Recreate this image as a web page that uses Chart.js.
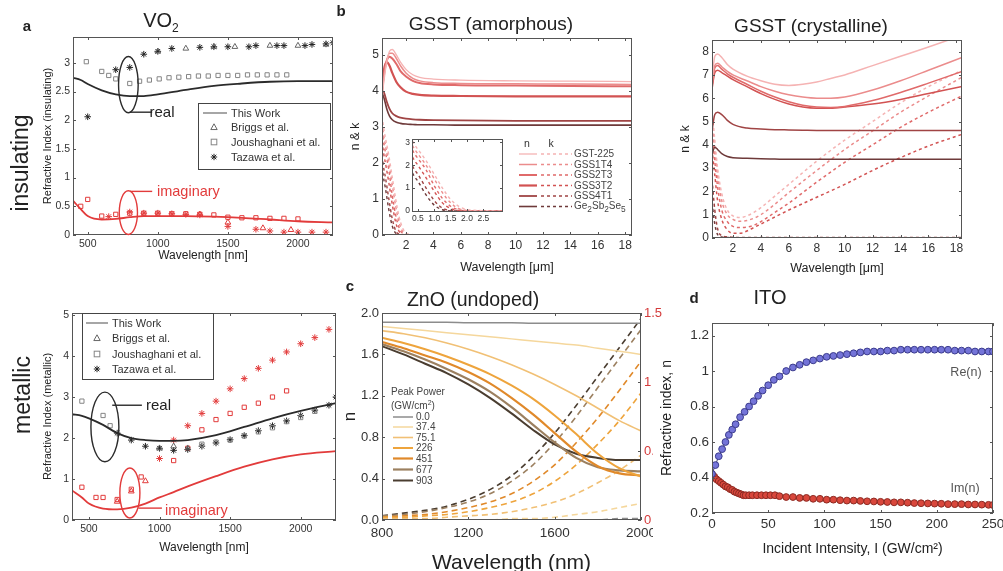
<!DOCTYPE html>
<html><head><meta charset="utf-8">
<script src="https://cdn.jsdelivr.net/npm/chart.js@4.4.1/dist/chart.umd.min.js"></script>
<style>
html,body{margin:0;padding:0;background:#fff;width:1003px;height:571px;overflow:hidden;font-family:"Liberation Sans",Arial,sans-serif;}
.box{position:absolute;}
.t{position:absolute;white-space:nowrap;color:#222;line-height:1;}
#ov{position:absolute;left:0;top:0;}
</style></head><body>
<div id="A" class="box"><canvas></canvas></div>
<div id="B" class="box"><canvas></canvas></div>
<div id="BI" class="box"><canvas></canvas></div>
<div id="C2" class="box"><canvas></canvas></div>
<div id="M" class="box"><canvas></canvas></div>
<div id="C" class="box"><canvas></canvas></div>
<div style="position:absolute;left:653px;top:330px;width:60px;height:241px;background:#fff"></div>
<div id="D" class="box"><canvas></canvas></div>
<svg id="ov" width="1003" height="571"></svg>
<script>
// ---------------- DATA ----------------
// tick labels
const tkVo2X   = [500, 1000, 1500, 2000];
const tkInsY   = [0, 0.5, 1, 1.5, 2, 2.5, 3];
const tkMetY   = [0, 1, 2, 3, 4, 5];
const tkGsstX  = [2, 4, 6, 8, 10, 12, 14, 16, 18];
const tkAmY    = [0, 1, 2, 3, 4, 5];
const tkCrY    = [0, 1, 2, 3, 4, 5, 6, 7, 8];
const tkInsetX = [0.5, 1.0, 1.5, 2.0, 2.5];
const tkInsetY = [0, 1, 2, 3];
const tkZnoX   = [800, 1200, 1600, 2000];
const tkZnoY   = [0, 0.4, 0.8, 1.2, 1.6, 2.0];
const tkZnoY2  = [0, 0.5, 1, 1.5];
const tkItoX   = [0, 50, 100, 150, 200, 250];
const tkItoY   = [0.2, 0.4, 0.6, 0.8, 1, 1.2];

// (a) VO2 insulating
const insX        = [395, 450, 500, 600, 700, 800, 900, 1000, 1200, 1400, 1600, 1800, 2000, 2250];
const insReal     = [2.74, 2.7, 2.63, 2.52, 2.45, 2.42, 2.42, 2.45, 2.53, 2.6, 2.64, 2.67, 2.68, 2.68];
const insImag     = [0.6, 0.45, 0.33, 0.27, 0.28, 0.31, 0.33, 0.33, 0.33, 0.32, 0.3, 0.27, 0.24, 0.22];
const briggsInsRX = [1000, 1200, 1400, 1550, 1800, 2000, 2200];
const briggsInsR  = [3.2, 3.25, 3.28, 3.28, 3.3, 3.3, 3.32];
const joushInsRX  = [490, 600, 650, 700, 800, 870, 940, 1010, 1080, 1150, 1220, 1290, 1360, 1430, 1500, 1570, 1640, 1710, 1780, 1850, 1920];
const joushInsR   = [3.02, 2.85, 2.78, 2.72, 2.64, 2.68, 2.7, 2.72, 2.74, 2.75, 2.76, 2.77, 2.77, 2.78, 2.78, 2.78, 2.79, 2.79, 2.79, 2.79, 2.79];
const tazInsRX    = [500, 700, 800, 900, 1000, 1100, 1300, 1400, 1500, 1650, 1700, 1850, 1900, 2050, 2100, 2200, 2250];
const tazInsR     = [2.06, 2.88, 2.92, 3.15, 3.2, 3.25, 3.27, 3.28, 3.28, 3.28, 3.3, 3.3, 3.3, 3.3, 3.32, 3.33, 3.35];
const joushInsIX  = [450, 500, 600, 700, 800, 900, 1000, 1100, 1200, 1300, 1400, 1500, 1600, 1700, 1800, 1900, 2000];
const joushInsI   = [0.5, 0.62, 0.33, 0.36, 0.38, 0.38, 0.38, 0.37, 0.37, 0.36, 0.35, 0.31, 0.3, 0.3, 0.29, 0.29, 0.28];
const tazInsIX    = [650, 800, 900, 1000, 1100, 1200, 1300, 1500, 1700, 1800, 1900, 2000, 2100, 2200];
const tazInsI     = [0.32, 0.4, 0.38, 0.38, 0.37, 0.36, 0.35, 0.15, 0.1, 0.07, 0.05, 0.05, 0.05, 0.05];
const briggsInsIX = [1300, 1500, 1750, 1950];
const briggsInsI  = [0.36, 0.22, 0.12, 0.09];

// VO2 metallic
const metX        = [380, 450, 500, 600, 700, 800, 900, 1000, 1100, 1200, 1400, 1600, 1800, 2000, 2250];
const metReal     = [2.58, 2.54, 2.48, 2.32, 2.12, 2.0, 1.95, 1.93, 1.93, 1.95, 2.07, 2.27, 2.48, 2.66, 2.85];
const metImag     = [0.72, 0.55, 0.4, 0.28, 0.26, 0.3, 0.4, 0.55, 0.68, 0.82, 1.07, 1.3, 1.48, 1.6, 1.68];
const tazMetRX    = [700, 800, 900, 1000, 1100, 1200, 1300, 1400, 1500, 1600, 1700, 1800, 1900, 2000, 2100, 2200, 2250];
const tazMetR     = [2.12, 1.95, 1.8, 1.75, 1.7, 1.72, 1.8, 1.88, 1.96, 2.06, 2.18, 2.3, 2.42, 2.55, 2.68, 2.8, 3.0];
const joushMetRX  = [450, 600, 650, 1300, 1400, 1500, 1600, 1700, 1800, 1900, 2000, 2100];
const joushMetR   = [2.9, 2.55, 2.3, 1.85, 1.9, 1.95, 2.05, 2.15, 2.25, 2.4, 2.5, 2.65];
const briggsMetRX = [1000, 1100, 1200];
const briggsMetR  = [1.75, 1.8, 1.75];
const tazMetIX    = [1000, 1100, 1200, 1300, 1400, 1500, 1600, 1700, 1800, 1900, 2000, 2100, 2200];
const tazMetI     = [1.5, 1.95, 2.3, 2.6, 2.9, 3.2, 3.45, 3.7, 3.9, 4.1, 4.3, 4.45, 4.65];
const joushMetIX  = [450, 550, 600, 700, 800, 870, 1100, 1200, 1300, 1400, 1500, 1600, 1700, 1800, 1900];
const joushMetI   = [0.8, 0.55, 0.55, 0.5, 0.75, 1.05, 1.45, 1.75, 2.2, 2.45, 2.6, 2.75, 2.85, 3.0, 3.15];
const briggsMetIX = [700, 800, 900];
const briggsMetI  = [0.45, 0.7, 0.95];

// (b) GSST amorphous
const gsstNames = ['GST-225', 'GSS1T4', 'GSS2T3', 'GSS3T2', 'GSS4T1', 'Ge<sub>2</sub>Sb<sub>2</sub>Se<sub>5</sub>'];
const amNX   = [0.25, 0.4, 0.6, 0.8, 1.0, 1.3, 1.6, 2.0, 2.5, 3, 4, 6, 10, 14, 18.5];
const amN225 = [3.8, 4.3, 4.8, 5.1, 5.15, 5.0, 4.8, 4.6, 4.45, 4.38, 4.33, 4.3, 4.28, 4.27, 4.26];
const amN14  = [3.9, 4.4, 4.85, 5.05, 5.05, 4.9, 4.7, 4.5, 4.35, 4.28, 4.23, 4.21, 4.2, 4.19, 4.18];
const amN23  = [4.0, 4.5, 4.85, 4.95, 4.9, 4.75, 4.55, 4.4, 4.28, 4.22, 4.18, 4.16, 4.15, 4.14, 4.13];
const amN32  = [4.1, 4.6, 4.8, 4.7, 4.5, 4.25, 4.1, 3.98, 3.92, 3.89, 3.87, 3.86, 3.85, 3.85, 3.85];
const amN41  = [4.0, 3.95, 3.7, 3.5, 3.38, 3.3, 3.26, 3.23, 3.21, 3.2, 3.19, 3.18, 3.17, 3.17, 3.17];
const amN225s= [3.95, 3.8, 3.5, 3.3, 3.2, 3.13, 3.1, 3.08, 3.07, 3.06, 3.06, 3.05, 3.05, 3.05, 3.05];
const amKX   = [0.25, 0.4, 0.5, 0.75, 1.0, 1.25, 1.5, 1.75, 2.0, 2.5, 3.0, 6, 18.5];
const amK225 = [3.3, 2.9, 2.7, 2.2, 1.6, 1.0, 0.5, 0.2, 0.06, 0.01, 0, 0, 0];
const amK14  = [3.1, 2.7, 2.5, 2.0, 1.4, 0.8, 0.35, 0.1, 0.02, 0, 0, 0, 0];
const amK23  = [2.9, 2.5, 2.3, 1.8, 1.1, 0.55, 0.2, 0.05, 0.01, 0, 0, 0, 0];
const amK32  = [2.6, 2.2, 2.0, 1.45, 0.85, 0.35, 0.1, 0.02, 0, 0, 0, 0, 0];
const amK41  = [2.2, 1.8, 1.6, 1.0, 0.45, 0.12, 0.02, 0, 0, 0, 0, 0, 0];
const amK225s= [1.9, 1.5, 1.3, 0.7, 0.25, 0.05, 0, 0, 0, 0, 0, 0, 0];

// GSST crystalline
const crNX   = [0.5, 0.7, 0.9, 1.2, 1.6, 2, 3, 4, 5, 6, 7, 8, 9, 10, 12, 14, 16, 18.4];
const crN225 = [6.8, 7.8, 7.9, 7.75, 7.45, 7.25, 6.95, 6.75, 6.6, 6.55, 6.6, 6.7, 6.85, 7.0, 7.4, 7.8, 8.2, 8.7];
const crN14  = [6.6, 7.4, 7.5, 7.35, 7.15, 7.0, 6.75, 6.5, 6.3, 6.15, 6.05, 6.0, 6.0, 6.05, 6.35, 6.75, 7.2, 7.75];
const crN23  = [6.5, 7.3, 7.4, 7.25, 7.05, 6.9, 6.6, 6.3, 6.05, 5.85, 5.7, 5.62, 5.6, 5.65, 5.9, 6.25, 6.65, 7.15];
const crN32  = [6.4, 7.1, 7.2, 7.1, 6.95, 6.8, 6.5, 6.2, 5.95, 5.75, 5.62, 5.57, 5.57, 5.62, 5.75, 5.95, 6.2, 6.5];
const crN41  = [4.6, 5.3, 5.4, 5.3, 5.05, 4.88, 4.72, 4.68, 4.65, 4.64, 4.63, 4.62, 4.62, 4.62, 4.62, 4.62, 4.62, 4.62];
const crN225s= [3.6, 3.9, 3.8, 3.62, 3.5, 3.45, 3.42, 3.4, 3.39, 3.38, 3.38, 3.38, 3.38, 3.38, 3.38, 3.38, 3.38, 3.38];
const crKX   = [0.5, 0.7, 0.9, 1.2, 1.6, 2, 2.5, 3, 3.5, 4, 5, 6, 8, 10, 12, 14, 16, 18.4];
const crK225 = [5.5, 4.2, 3.0, 1.9, 1.2, 0.95, 0.88, 0.95, 1.1, 1.3, 1.8, 2.3, 3.3, 4.2, 5.0, 5.8, 6.5, 7.2];
const crK14  = [5.0, 3.8, 2.7, 1.6, 1.0, 0.8, 0.72, 0.75, 0.85, 1.0, 1.45, 1.95, 2.9, 3.8, 4.6, 5.4, 6.1, 6.9];
const crK23  = [4.5, 3.3, 2.2, 1.2, 0.7, 0.5, 0.45, 0.47, 0.55, 0.7, 1.1, 1.5, 2.4, 3.25, 4.0, 4.75, 5.4, 6.1];
const crK32  = [3.8, 2.7, 1.6, 0.8, 0.35, 0.2, 0.2, 0.3, 0.45, 0.6, 0.9, 1.2, 1.75, 2.3, 2.9, 3.45, 3.95, 4.45];
const crK41  = [2.5, 1.2, 0.4, 0.1, 0.05, 0.03, 0.02, 0.02, 0.02, 0.02, 0.02, 0.02, 0.02, 0.02, 0.02, 0.02, 0.02, 0.02];
const crK225s= [1.5, 0.6, 0.15, 0.04, 0.02, 0.01, 0.01, 0.01, 0.01, 0.01, 0.01, 0.01, 0.01, 0.01, 0.01, 0.01, 0.01, 0.01];

// (c) ZnO
const znoPowers = ['0.0', '37.4', '75.1', '226', '451', '677', '903'];
const znoX  = [800, 900, 1000, 1100, 1200, 1300, 1400, 1500, 1600, 1700, 1800, 1900, 2000];
const znoN0   = [1.91, 1.91, 1.91, 1.91, 1.905, 1.905, 1.905, 1.9, 1.9, 1.9, 1.9, 1.9, 1.9];
const znoN37  = [1.87, 1.85, 1.83, 1.81, 1.79, 1.77, 1.75, 1.73, 1.71, 1.69, 1.66, 1.63, 1.6];
const znoN75  = [1.83, 1.8, 1.76, 1.71, 1.65, 1.58, 1.5, 1.41, 1.31, 1.2, 1.08, 0.96, 0.86];
const znoN226 = [1.76, 1.71, 1.65, 1.58, 1.5, 1.41, 1.3, 1.17, 1.01, 0.83, 0.64, 0.5, 0.42];
const znoN451 = [1.72, 1.66, 1.59, 1.52, 1.43, 1.32, 1.18, 1.02, 0.84, 0.66, 0.52, 0.45, 0.43];
const znoN677 = [1.7, 1.63, 1.55, 1.46, 1.36, 1.24, 1.09, 0.92, 0.75, 0.6, 0.51, 0.48, 0.47];
const znoN903 = [1.68, 1.6, 1.51, 1.42, 1.31, 1.18, 1.03, 0.87, 0.73, 0.64, 0.6, 0.58, 0.58];
const znoK0   = [0, 0, 0, 0, 0, 0, 0, 0, 0, 0, 0, 0.01, 0.01];
const znoK37  = [0, 0, 0, 0, 0, 0, 0.01, 0.01, 0.02, 0.04, 0.06, 0.09, 0.12];
const znoK75  = [0.01, 0.01, 0.01, 0.02, 0.03, 0.04, 0.06, 0.09, 0.13, 0.19, 0.27, 0.36, 0.47];
const znoK226 = [0.02, 0.02, 0.03, 0.04, 0.06, 0.09, 0.13, 0.19, 0.28, 0.4, 0.55, 0.72, 0.92];
const znoK451 = [0.02, 0.03, 0.04, 0.06, 0.09, 0.13, 0.19, 0.28, 0.4, 0.56, 0.74, 0.94, 1.15];
const znoK677 = [0.03, 0.04, 0.06, 0.09, 0.13, 0.19, 0.28, 0.4, 0.56, 0.75, 0.96, 1.17, 1.38];
const znoK903 = [0.03, 0.05, 0.07, 0.1, 0.15, 0.22, 0.32, 0.46, 0.63, 0.83, 1.04, 1.25, 1.46];

// (d) ITO
const itoReX = [0,3,6,9,12,15,18,21,25,29,33,37,41,45,50,55,60,66,72,78,84,90,96,102,108,114,120,126,132,138,144,150,156,162,168,174,180,186,192,198,204,210,216,222,228,234,240,246,250];
const itoRe  = [0.42,0.47,0.52,0.56,0.6,0.64,0.67,0.70,0.74,0.77,0.8,0.83,0.86,0.89,0.92,0.95,0.97,1.0,1.02,1.035,1.05,1.06,1.07,1.08,1.085,1.09,1.095,1.1,1.105,1.11,1.11,1.11,1.115,1.115,1.12,1.12,1.12,1.12,1.12,1.12,1.12,1.12,1.115,1.115,1.115,1.11,1.11,1.11,1.11];
const itoImX = [0,2,4,6,8,10,12,14,16,18,20,22,24,26,28,30,33,36,40,44,48,52,56,60,66,72,78,84,90,96,102,108,114,120,126,132,138,144,150,156,162,168,174,180,186,192,198,204,210,216,222,228,234,240,246,250];
const itoIm  = [0.42,0.405,0.39,0.38,0.37,0.36,0.35,0.345,0.335,0.33,0.32,0.315,0.31,0.305,0.3,0.3,0.3,0.3,0.3,0.3,0.3,0.3,0.3,0.295,0.29,0.29,0.285,0.285,0.28,0.28,0.275,0.275,0.272,0.27,0.27,0.268,0.266,0.265,0.263,0.262,0.26,0.26,0.258,0.256,0.255,0.254,0.253,0.252,0.25,0.25,0.25,0.248,0.248,0.247,0.246,0.245];

// ---------------- STYLE ----------------
const FONT = '"Liberation Sans", Arial, sans-serif';
Chart.defaults.font.family = FONT;
Chart.defaults.color = '#333';
const GS = ['#f5b3b3', '#eb8c8c', '#e06a6a', '#d25252', '#a04444', '#6e3a3a'];
const GW = [1.3, 1.5, 2.0, 2.2, 1.8, 1.6];
const ZC = ['#8c8c8c', '#f5d79c', '#f1c075', '#eea43c', '#e0892a', '#9c8060', '#4a3d30'];
const ZW = [1.5, 1.5, 1.6, 2, 2.2, 2.2, 2];
const RED = '#e23b3b', BLK = '#2b2b2b', GRY = '#858585';

function xy(xs, ys) { return xs.map((x, i) => ({x: x, y: ys[i]})); }
function line(xs, ys, color, w, dash, yid) {
  return {data: xy(xs, ys), borderColor: color, borderWidth: w, borderDash: dash || [], pointRadius: 0,
          fill: false, cubicInterpolationMode: 'monotone', yAxisID: yid || 'y'};
}
function pts(xs, ys, style, color, r, fill) {
  return {data: xy(xs, ys), showLine: false, pointStyle: style, pointRadius: r || 3.3, pointBorderColor: color,
          pointBackgroundColor: fill || 'rgba(0,0,0,0)', pointBorderWidth: 1, borderColor: color, yAxisID: 'y'};
}
const plain = v => String(Math.round(v * 1000) / 1000);
const fix1 = v => v.toFixed(1);
function axis(pos, min, max, tks, size, fs, title, tfs, extra) {
  const vertical = (pos === 'left' || pos === 'right');
  const a = {
    type: 'linear', position: pos, min: min, max: max,
    grid: {display: false, drawTicks: false}, border: {display: false},
    ticks: {autoSkip: false, maxRotation: 0, padding: 3, color: '#333', font: {size: fs}, callback: plain},
    title: {display: !!title, text: title || '', color: '#222', font: {size: tfs || fs},
            padding: vertical ? {top: 0, bottom: 0} : {top: 0, bottom: 4}},
    afterBuildTicks: function (s) { s.ticks = tks.map(v => ({value: v})); },
    afterFit: function (s) { if (vertical) s.width = size; else s.height = size; }
  };
  if (extra && extra.ticks) Object.assign(a.ticks, extra.ticks);
  return a;
}
function opts(scales, pad, plugins) {
  return {responsive: false, animation: false, events: [], layout: {padding: pad}, scales: scales,
          plugins: Object.assign({legend: {display: false}, tooltip: {enabled: false}}, plugins || {})};
}

// plugins
const framePlugin = {
  id: 'frame',
  afterDatasetsDraw(chart, args, o) {
    const {ctx, chartArea: a, scales} = chart;
    ctx.save();
    ctx.strokeStyle = '#555'; ctx.lineWidth = 1;
    ctx.strokeRect(Math.round(a.left) + 0.5, Math.round(a.top) + 0.5, Math.round(a.right - a.left) - 1, Math.round(a.bottom - a.top) - 1);
    const L = 3;
    ctx.beginPath();
    const sx = scales.x;
    sx.ticks.forEach(t => { const p = Math.round(sx.getPixelForValue(t.value)) + 0.5;
      ctx.moveTo(p, a.bottom); ctx.lineTo(p, a.bottom - L); ctx.moveTo(p, a.top); ctx.lineTo(p, a.top + L); });
    const sy = scales.y;
    sy.ticks.forEach(t => { const p = Math.round(sy.getPixelForValue(t.value)) + 0.5;
      ctx.moveTo(a.left, p); ctx.lineTo(a.left + L, p);
      if (!scales.y2) { ctx.moveTo(a.right, p); ctx.lineTo(a.right - L, p); } });
    if (scales.y2) scales.y2.ticks.forEach(t => { const p = Math.round(scales.y2.getPixelForValue(t.value)) + 0.5;
      ctx.moveTo(a.right, p); ctx.lineTo(a.right - L, p); });
    ctx.stroke(); ctx.restore();
  }
};
const bgPlugin = {
  id: 'plotbg',
  beforeDatasetsDraw(chart, args, o) {
    if (!o || !o.color) return;
    const {ctx, chartArea: a} = chart;
    ctx.save(); ctx.fillStyle = o.color; ctx.fillRect(a.left, a.top, a.right - a.left, a.bottom - a.top); ctx.restore();
  }
};
const ellipsePlugin = {
  id: 'ellipses',
  afterDatasetsDraw(chart, args, o) {
    if (!o || !o.items) return;
    const {ctx} = chart; const sx = chart.scales.x, sy = chart.scales.y;
    for (let i = 0; i < o.items.length; i++) {
      const e = o.items[i];
      const cx = sx.getPixelForValue(e.x), cy = sy.getPixelForValue(e.y);
      const rx = Math.abs(sx.getPixelForValue(e.x + e.rx) - cx), ry = Math.abs(sy.getPixelForValue(e.y + e.ry) - cy);
      ctx.save(); ctx.strokeStyle = e.color; ctx.lineWidth = 1.4;
      ctx.beginPath(); ctx.ellipse(cx, cy, rx, ry, 0, 0, 2 * Math.PI); ctx.stroke();
      if (e.lead) {
        ctx.beginPath();
        ctx.moveTo(sx.getPixelForValue(e.lead[0]), sy.getPixelForValue(e.lead[1]));
        ctx.lineTo(sx.getPixelForValue(e.lead[2]), sy.getPixelForValue(e.lead[3]));
        ctx.stroke();
      }
      ctx.restore();
    }
  }
};
Chart.register(framePlugin, bgPlugin, ellipsePlugin);

function mk(id, l, t, w, h, cfg) {
  const el = document.getElementById(id);
  Object.assign(el.style, {left: l + 'px', top: t + 'px', width: w + 'px', height: h + 'px'});
  const cv = el.querySelector('canvas');
  cv.width = w; cv.height = h; cv.style.width = w + 'px'; cv.style.height = h + 'px';
  return new Chart(cv, cfg);
}

// ---------------- (a) VO2 insulating ----------------
mk('A', 41, 26, 312, 241, {
  type: 'line',
  data: {datasets: [
    line(insX, insReal, BLK, 1.8),
    line(insX, insImag, RED, 1.8),
    pts(briggsInsRX, briggsInsR, 'triangle', '#666'),
    pts(joushInsRX, joushInsR, 'rect', GRY, 3),
    pts(tazInsRX, tazInsR, 'star', '#222'),
    pts(joushInsIX, joushInsI, 'rect', RED, 3),
    pts(tazInsIX, tazInsI, 'star', RED),
    pts(briggsInsIX, briggsInsI, 'triangle', RED)
  ]},
  options: opts({
    x: axis('bottom', 395, 2250, tkVo2X, 32, 10.5, 'Wavelength [nm]', 12),
    y: axis('left', 0, 3.45, tkInsY, 32, 10.5, 'Refractive Index (insulating)', 11)
  }, {left: 0, top: 11, right: 20, bottom: 0}, {
    ellipses: {items: [
      {x: 790, y: 2.62, rx: 70, ry: 0.49, color: BLK, lead: [800, 2.14, 960, 2.14]},
      {x: 790, y: 0.39, rx: 65, ry: 0.38, color: RED, lead: [800, 0.76, 960, 0.76]}
    ]}
  })
});

// ---------------- (b) GSST amorphous ----------------
const amN = [amN225, amN14, amN23, amN32, amN41, amN225s];
const amK = [amK225, amK14, amK23, amK32, amK41, amK225s];
const amSets = [];
amN.forEach((ys, i) => amSets.push(line(amNX, ys, GS[i], GW[i])));
amK.forEach((ys, i) => amSets.push(line(amKX, ys, GS[i], 1.4, [3, 3])));
mk('B', 348, 27, 296, 252, {
  type: 'line', data: {datasets: amSets},
  options: opts({
    x: axis('bottom', 0.25, 18.5, tkGsstX, 44, 12, 'Wavelength [\u03bcm]', 12.5),
    y: axis('left', 0, 5.47, tkAmY, 34, 12, 'n & k', 12)
  }, {left: 0, top: 11, right: 12, bottom: 0})
});
const inSets = [];
amK.forEach((ys, i) => inSets.push(line(amKX, ys, GS[i], 1.4, [3, 3])));
mk('BI', 402, 131, 109, 94, {
  type: 'line', data: {datasets: inSets},
  options: opts({
    x: axis('bottom', 0.32, 3.1, tkInsetX, 13, 8.5, '', 8.5, {ticks: {padding: 2, callback: fix1}}),
    y: axis('left', -0.05, 3.15, tkInsetY, 10, 8.5, '', 8.5, {ticks: {padding: 2}})
  }, {left: 0, top: 8, right: 8, bottom: 0}, {plotbg: {color: '#ffffff'}})
});

// ---------------- GSST crystalline ----------------
const crN = [crN225, crN14, crN23, crN32, crN41, crN225s];
const crK = [crK225, crK14, crK23, crK32, crK41, crK225s];
const crSets = [];
crN.forEach((ys, i) => crSets.push(line(crNX, ys, GS[i], 1.5)));
crK.forEach((ys, i) => crSets.push(line(crKX, ys, GS[i], 1.5, [3, 3])));
mk('C2', 678, 29, 296, 251, {
  type: 'line', data: {datasets: crSets},
  options: opts({
    x: axis('bottom', 0.5, 18.4, tkGsstX, 42, 12, 'Wavelength [\u03bcm]', 12.5),
    y: axis('left', 0, 8.5, tkCrY, 34, 12, 'n & k', 12)
  }, {left: 0, top: 11, right: 12, bottom: 0})
});

// ---------------- VO2 metallic ----------------
mk('M', 41, 302, 315, 257, {
  type: 'line',
  data: {datasets: [
    line(metX, metReal, BLK, 1.8),
    line(metX, metImag, RED, 1.8),
    pts(briggsMetRX, briggsMetR, 'triangle', '#666'),
    pts(joushMetRX, joushMetR, 'rect', GRY, 3),
    pts(tazMetRX, tazMetR, 'star', '#222'),
    pts(joushMetIX, joushMetI, 'rect', RED, 3),
    pts(tazMetIX, tazMetI, 'star', RED),
    pts(briggsMetIX, briggsMetI, 'triangle', RED)
  ]},
  options: opts({
    x: axis('bottom', 380, 2250, tkVo2X, 39, 10.5, 'Wavelength [nm]', 12),
    y: axis('left', 0, 5.05, tkMetY, 31, 10.5, 'Refractive Index (metallic)', 11)
  }, {left: 0, top: 11, right: 20, bottom: 0}, {
    ellipses: {items: [
      {x: 613, y: 2.27, rx: 99, ry: 0.85, color: BLK, lead: [665, 2.8, 875, 2.8]},
      {x: 790, y: 0.66, rx: 71, ry: 0.61, color: RED, lead: [850, 0.29, 1017, 0.29]}
    ]}
  })
});

// ---------------- (c) ZnO ----------------
const zN = [znoN0, znoN37, znoN75, znoN226, znoN451, znoN677, znoN903];
const zK = [znoK0, znoK37, znoK75, znoK226, znoK451, znoK677, znoK903];
const zSets = [];
zN.forEach((ys, i) => zSets.push(line(znoX, ys, ZC[i], ZW[i])));
zK.forEach((ys, i) => zSets.push(line(znoX, ys, ZC[i], 1.6, [6, 4], 'y2')));
mk('C', 340, 302, 329, 278, {
  type: 'line', data: {datasets: zSets},
  options: opts({
    x: axis('bottom', 800, 2000, tkZnoX, 60, 13.5, 'Wavelength (nm)', 21, {ticks: {padding: 5}}),
    y: axis('left', 0, 2, tkZnoY, 42, 13, 'n', 17, {ticks: {callback: fix1}}),
    y2: axis('right', 0, 1.5, tkZnoY2, 22, 13, '', 13, {ticks: {color: '#d43a3a'}})
  }, {left: 0, top: 11, right: 6, bottom: 0})
});

// ---------------- (d) ITO ----------------
mk('D', 652, 312, 357, 250, {
  type: 'line',
  data: {datasets: [
    {data: xy(itoReX, itoRe), borderColor: '#3a3a6a', borderWidth: 1, pointStyle: 'circle', pointRadius: 3.4,
     pointBackgroundColor: '#7474d8', pointBorderColor: '#3b3b8c', pointBorderWidth: 1, fill: false},
    {data: xy(itoImX, itoIm), borderColor: '#6a2a2a', borderWidth: 1, pointStyle: 'circle', pointRadius: 3.4,
     pointBackgroundColor: '#d9473c', pointBorderColor: '#8c2a22', pointBorderWidth: 1, fill: false}
  ]},
  options: opts({
    x: axis('bottom', 0, 250, tkItoX, 49, 13.5, 'Incident Intensity, I (GW/cm\u00b2)', 14),
    y: axis('left', 0.2, 1.27, tkItoY, 53, 13.5, 'Refractive index, n', 14)
  }, {left: 7, top: 11, right: 16, bottom: 0})
});

// ---------------- TEXT & LEGENDS ----------------
function T(html, x, y, size, o) {
  o = o || {};
  const d = document.createElement('div');
  d.className = 't'; d.innerHTML = html; d.style.fontSize = size + 'px';
  d.style.left = x + 'px'; d.style.top = y + 'px';
  if (o.color) d.style.color = o.color;
  if (o.bold) d.style.fontWeight = 'bold';
  let tr = o.left ? 'translate(0,-50%)' : 'translate(-50%,-50%)';
  if (o.rot) tr += ' rotate(-90deg)';
  d.style.transform = tr;
  document.body.appendChild(d);
  return d;
}
const NS = 'http://www.w3.org/2000/svg';
const ov = document.getElementById('ov');
function S(tag, attrs) { const e = document.createElementNS(NS, tag); for (const k in attrs) e.setAttribute(k, attrs[k]); ov.appendChild(e); return e; }
function sym(kind, cx, cy, color) {
  const r = 3.2;
  if (kind === 'triangle') S('polygon', {points: `${cx},${cy - r} ${cx - r},${cy + r * 0.8} ${cx + r},${cy + r * 0.8}`, fill: 'none', stroke: color});
  else if (kind === 'rect') S('rect', {x: cx - 2.8, y: cy - 2.8, width: 5.6, height: 5.6, fill: 'none', stroke: color});
  else if (kind === 'star') { S('path', {d: `M${cx - r},${cy}H${cx + r}M${cx},${cy - r}V${cy + r}M${cx - 2.3},${cy - 2.3}L${cx + 2.3},${cy + 2.3}M${cx - 2.3},${cy + 2.3}L${cx + 2.3},${cy - 2.3}`, stroke: color, 'stroke-width': 1}); }
}

// panel letters & titles
T('a', 27, 25, 15, {bold: true});
T('b', 341, 10, 15, {bold: true});
T('c', 350, 285, 15, {bold: true});
T('d', 694, 297, 15, {bold: true});
T('VO<sub style="font-size:12px">2</sub>', 161, 22, 20);
T('GSST (amorphous)', 491, 23, 19);
T('GSST (crystalline)', 811, 25, 19);
T('ZnO (undoped)', 473, 300, 19.5);
T('ITO', 770, 297, 20);
T('insulating', 20, 163, 23, {rot: true});
T('metallic', 22, 395, 23, {rot: true});

// annotations
T('real', 162, 111, 15);
T('imaginary', 157, 191, 14.5, {left: true, color: RED});
T('real', 146, 404, 15, {left: true});
T('imaginary', 165, 510, 14.5, {left: true, color: RED});
T('Re(n)', 966, 372, 12.5, {color: '#555'});
T('Im(n)', 965, 488, 12.5, {color: '#555'});

// VO2 legends
function vo2Legend(bx, by, bw, bh, rows, lx1, lx2, mx, tx) {
  S('rect', {x: bx + 0.5, y: by + 0.5, width: bw, height: bh, fill: '#fff', stroke: '#444', 'stroke-width': 1});
  const names = ['This Work', 'Briggs et al.', 'Joushaghani et al.', 'Tazawa et al.'];
  S('line', {x1: lx1, y1: rows[0], x2: lx2, y2: rows[0], stroke: '#888', 'stroke-width': 1.5});
  sym('triangle', mx, rows[1], '#666');
  sym('rect', mx, rows[2], GRY);
  sym('star', mx, rows[3], '#222');
  names.forEach((n, i) => T(n, tx, rows[i], 11, {left: true, color: '#333'}));
}
vo2Legend(198, 103, 132, 66, [113, 127, 142, 157], 203, 227, 214, 231);
vo2Legend(82, 313, 131, 66, [323, 338, 354, 369], 86, 108, 97, 112);

// GSST legend
T('n', 527, 143, 10.5, {color: '#333'});
T('k', 551, 143, 10.5, {color: '#333'});
const gRows = [154, 164.5, 175, 185.5, 196, 206.5];
gsstNames.forEach((n, i) => {
  S('line', {x1: 519, y1: gRows[i], x2: 537, y2: gRows[i], stroke: GS[i], 'stroke-width': GW[i]});
  S('line', {x1: 541, y1: gRows[i], x2: 572, y2: gRows[i], stroke: GS[i], 'stroke-width': 1.4, 'stroke-dasharray': '3,3'});
  T(n, 574, gRows[i], 10, {left: true, color: '#444'});
});

// ZnO legend
T('Peak Power', 391, 392, 10, {left: true, color: '#444'});
T('(GW/cm<sup style="font-size:7px">2</sup>)', 391, 405, 10, {left: true, color: '#444'});
const zRows = [417, 427, 437.5, 448, 458.5, 469.5, 480.5];
znoPowers.forEach((p, i) => {
  S('line', {x1: 393, y1: zRows[i], x2: 413, y2: zRows[i], stroke: ZC[i], 'stroke-width': ZW[i]});
  T(p, 416, zRows[i], 10, {left: true, color: '#444'});
});
</script>
</body></html>
